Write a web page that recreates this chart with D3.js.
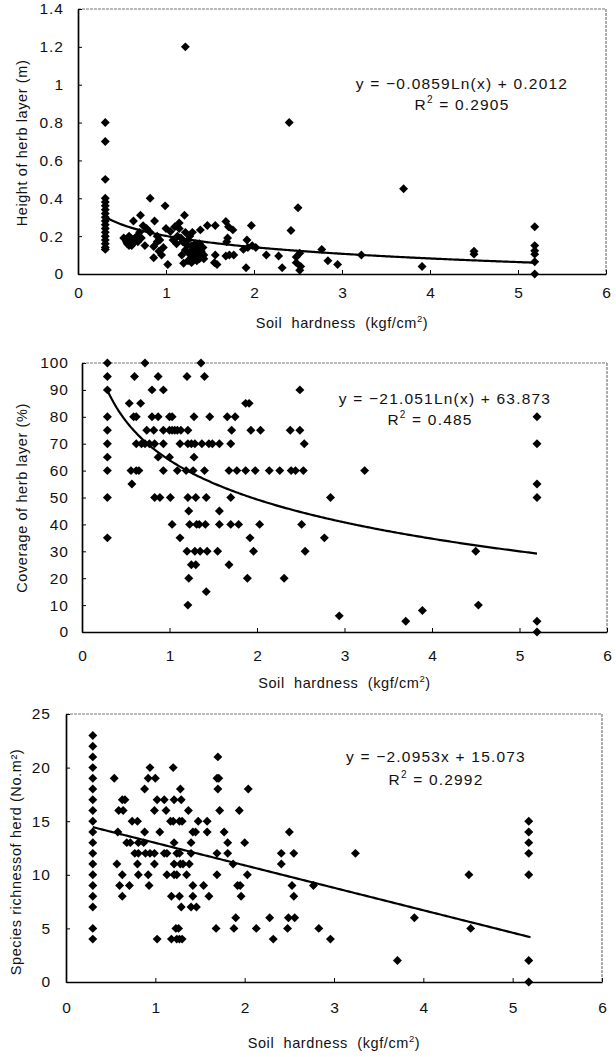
<!DOCTYPE html>
<html lang="en">
<head>
<meta charset="UTF-8">
<title>Soil hardness and herb layer</title>
<script src="https://d3js.org/d3.v7.min.js"></script>
<style>
  body { margin: 0; background: #fff; }
  svg { display: block; }
  text { font-family: "Liberation Sans", Arial, Helvetica, sans-serif; fill: #111; }
</style>
</head>
<body>
<div id="chart"></div>
<script>
// x ticks shared by all three panels
const xTicks = [0, 1, 2, 3, 4, 5, 6];

// panel 1: height of herb layer (m)
const heightTicks = [0, 0.2, 0.4, 0.6, 0.8, 1, 1.2, 1.4];
const heightPts = [
  [0.31,0.8],[0.31,0.7],[0.31,0.5],[0.31,0.4],[0.31,0.38],[0.31,0.36],[0.31,0.34],[0.31,0.32],
  [0.31,0.3],[0.31,0.28],[0.31,0.26],[0.31,0.24],[0.31,0.22],[0.31,0.2],[0.31,0.18],[0.31,0.16],
  [0.31,0.14],[0.31,0.13],
  [1.22,1.2],[2.40,0.8],[3.70,0.45],[2.50,0.35],[2.42,0.23],[0.82,0.40],[0.99,0.36],[1.21,0.31],
  [0.71,0.31],[0.63,0.28],[0.87,0.28],[0.74,0.255],[0.52,0.19],[0.55,0.17],[0.58,0.15],[0.60,0.19],
  [0.62,0.16],[0.65,0.19],[0.67,0.2],[0.70,0.22],[0.76,0.15],[0.78,0.24],[0.82,0.22],[0.86,0.145],
  [0.90,0.17],[0.86,0.086],[1.02,0.05],[1.00,0.24],[1.05,0.225],[1.10,0.25],[1.15,0.24],[1.13,0.2],
  [1.22,0.22],[0.97,0.14],[1.22,0.127],[1.29,0.15],[1.28,0.1],[1.31,0.08],[1.33,0.12],[1.35,0.07],
  [1.37,0.13],[1.39,0.11],[1.41,0.09],[1.20,0.057],[1.39,0.233],[1.47,0.256],[1.56,0.256],[1.68,0.277],
  [1.71,0.25],[1.76,0.233],[1.70,0.19],[1.69,0.17],[1.97,0.256],[1.92,0.18],[1.88,0.13],[1.93,0.14],
  [1.98,0.15],[2.02,0.14],[1.43,0.1],[1.43,0.08],[1.56,0.1],[1.55,0.06],[1.58,0.05],[1.68,0.095],
  [1.72,0.1],[1.77,0.1],[1.91,0.033],[2.14,0.1],[2.28,0.095],[2.32,0.033],[2.48,0.09],[2.52,0.11],
  [2.48,0.06],[2.53,0.04],[2.52,0.02],[2.77,0.13],[2.84,0.07],[2.95,0.05],[3.22,0.1],[3.91,0.04],
  [4.50,0.12],[4.50,0.105],[5.19,0.25],[5.19,0.15],[5.19,0.123],[5.19,0.105],[5.19,0.065],[5.19,0],
  [0.57,0.18],[0.60,0.17],[0.64,0.18],[0.58,0.2],[1.08,0.18],[1.12,0.16],[1.17,0.19],[1.19,0.17],
  [1.25,0.18],[1.27,0.2],[1.30,0.22],[1.18,0.1],[1.25,0.07],[1.30,0.13],[1.35,0.14],[1.38,0.16],
  [0.92,0.12],[0.95,0.1],[0.90,0.2],[0.93,0.18],[1.15,0.27],
  [0.56,0.16],[0.61,0.15],[0.63,0.17],[0.68,0.17],[0.72,0.19],[1.26,0.11],[1.29,0.06],[1.32,0.1],
  [1.34,0.09],[1.36,0.11],[1.38,0.08],[1.40,0.12],[1.42,0.14],[1.33,0.16],[1.24,0.15]
];

// panel 2: coverage of herb layer (%)
const coverTicks = [0, 10, 20, 30, 40, 50, 60, 70, 80, 90, 100];
const coverPts = [
  [0.29,100],[0.72,100],[1.36,100],
  [0.29,95],[0.60,95],[0.87,95],[1.20,95],[1.40,95],
  [0.29,90],[0.80,90],[0.93,90],[2.49,90],
  [0.54,85],[0.67,85],[1.87,85],[1.91,85],
  [0.29,80],[0.59,80],[0.62,80],[0.80,80],[0.87,80],[1.00,80],[1.03,80],[1.28,80],[1.46,80],[1.66,80],[1.75,80],
  [0.29,75],[0.74,75],[0.82,75],[0.93,75],[1.00,75],[1.03,75],[1.06,75],[1.09,75],[1.13,75],[1.21,75],
  [1.71,75],[1.93,75],[2.04,75],[2.38,75],[2.49,75],
  [0.29,70],[0.62,70],[0.68,70],[0.72,70],[0.77,70],[0.83,70],[0.93,70],[1.12,70],[1.21,70],[1.25,70],
  [1.29,70],[1.37,70],[1.45,70],[1.49,70],[1.57,70],[1.70,70],[2.54,70],
  [0.29,65],[0.87,65],[1.00,65],[1.28,65],
  [0.29,60],[0.56,60],[0.62,60],[0.65,60],[0.93,60],[1.09,60],[1.19,60],[1.27,60],[1.40,60],[1.68,60],
  [1.77,60],[1.87,60],[1.98,60],[2.14,60],[2.26,60],[2.39,60],[2.44,60],[2.53,60],[3.23,60],
  [0.57,55],
  [0.29,50],[0.83,50],[0.89,50],[1.01,50],[1.21,50],[1.30,50],[1.42,50],[1.70,50],[2.84,50],
  [1.22,45],[1.57,45],
  [1.03,40],[1.23,40],[1.31,40],[1.34,40],[1.41,40],[1.57,40],[1.70,40],[1.79,40],[2.03,40],[2.51,40],
  [0.29,35],[1.12,35],[1.92,35],[2.77,35],
  [1.20,30],[1.29,30],[1.35,30],[1.43,30],[1.55,30],[1.96,30],[2.55,30],[4.50,30],
  [1.25,25],[1.30,25],[1.68,25],
  [1.22,20],[1.89,20],[2.31,20],
  [1.42,15],[1.21,10],[4.53,10],[3.89,8],[2.94,6],[3.70,4],
  [5.20,80],[5.20,70],[5.20,55],[5.20,50],[5.20,4],[5.20,0]
];

// panel 3: species richness
const richTicks = [0, 5, 10, 15, 20, 25];
const richPts = [
  [0.30,23],[0.30,22],[0.30,21],[0.30,20],[0.30,19],[0.30,18],[0.30,17],[0.30,16],[0.30,15],[0.30,14],
  [0.30,13],[0.30,12],[0.30,11],[0.30,10],[0.30,9],[0.30,8],[0.30,7],[0.30,5],[0.30,4],
  [0.94,20],[1.20,20],[1.70,21],
  [0.54,19],[0.92,19],[1.00,19],[1.69,19],[1.71,19],
  [0.88,18],[1.28,18],[1.70,18],[2.04,18],
  [0.63,17],[0.66,17],[1.02,17],[1.10,17],[1.21,17],[1.29,17],
  [0.59,16],[0.64,16],[0.99,16],[1.12,16],[1.37,16],[1.72,16],[1.94,16],
  [0.74,15],[0.80,15],[1.17,15],[1.20,15],[1.27,15],[1.30,15],[1.48,15],[1.58,15],
  [0.58,14],[0.88,14],[1.05,14],[1.42,14],[1.45,14],[1.58,14],[1.77,14],[2.50,14],
  [0.68,13],[0.72,13],[0.81,13],[0.87,13],[1.21,13],[1.40,13],[1.81,13],[2.00,13],
  [0.77,12],[0.81,12],[0.89,12],[0.94,12],[0.99,12],[1.10,12],[1.13,12],[1.24,12],[1.27,12],[1.40,12],
  [1.69,12],[1.81,12],[2.41,12],[2.55,12],[3.24,12],
  [0.57,11],[0.80,11],[0.99,11],[1.21,11],[1.28,11],[1.31,11],[1.38,11],[1.87,11],[2.41,11],
  [0.63,10],[0.81,10],[0.92,10],[1.13,10],[1.21,10],[1.24,10],[1.35,10],[1.69,10],[2.03,10],[4.51,10],
  [0.60,9],[0.71,9],[0.93,9],[1.42,9],[1.54,9],[1.92,9],[1.95,9],[2.53,9],[2.77,9],
  [0.63,8],[1.18,8],[1.27,8],[1.42,8],[1.60,8],[1.96,8],[2.55,8],
  [1.29,7],[1.40,7],[1.46,7],
  [1.90,6],[2.28,6],[2.49,6],[2.56,6],[3.90,6],
  [1.68,5],[1.88,5],[2.13,5],[2.48,5],[2.83,5],[1.23,5],[1.26,5],[4.53,5],
  [1.02,4],[1.18,4],[1.24,4],[1.27,4],[1.30,4],[2.32,4],[2.96,4],
  [3.71,2],
  [5.18,15],[5.18,14],[5.18,13],[5.18,12],[5.18,10],[5.18,2],[5.18,0]
];

// fitted trend lines as printed on the chart
const heightFit = x => -0.0859 * Math.log(x) + 0.2012;
const coverFit = x => -21.051 * Math.log(x) + 63.873;
const richFit = x => -2.0953 * x + 15.073;

const W = 616, H = 1057;
const svg = d3.select("#chart").append("svg")
  .attr("width", W).attr("height", H);

const panels = [
  { left: 78, right: 606, top: 9, bottom: 274, yMax: 1.4, yTicks: heightTicks, pts: heightPts, fit: heightFit,
    yTitle: "Height of herb layer (m)", yTitleX: 27, yTitleY: 143, labelGap: 14,
    eq: "y = \u22120.0859Ln(x) + 0.2012", eqX: 462, eqY: 89, r2: "0.2905", r2X: 462, r2Y: 110,
    xLabY: 298, xTitleY: 328 },
  { left: 82, right: 607, top: 363, bottom: 632, yMax: 100, yTicks: coverTicks, pts: coverPts, fit: coverFit,
    yTitle: "Coverage of herb layer (%)", yTitleX: 27, yTitleY: 498, labelGap: 13,
    eq: "y = \u221221.051Ln(x) + 63.873", eqX: 445, eqY: 404, r2: "0.485", r2X: 430, r2Y: 425,
    xLabY: 661, xTitleY: 688 },
  { left: 66, right: 602, top: 714, bottom: 982, yMax: 25, yTicks: richTicks, pts: richPts, fit: richFit,
    yTitle: "Species richnessof herd (No.m\u00B2)", yTitleX: 21, yTitleY: 862, labelGap: 15,
    eq: "y = \u22122.0953x + 15.073", eqX: 436, eqY: 762, r2: "0.2992", r2X: 436, r2Y: 785,
    xLabY: 1013, xTitleY: 1048 }
];

panels.forEach(p => {
  const x = d3.scaleLinear().domain([0, 6]).range([p.left, p.right]);
  const y = d3.scaleLinear().domain([0, p.yMax]).range([p.bottom, p.top]);
  const g = svg.append("g");

  // frame: top/right faint, left/bottom solid
  g.append("line").attr("x1", p.left).attr("x2", p.right).attr("y1", p.top).attr("y2", p.top)
    .attr("stroke", "#777").attr("stroke-width", 1.2).attr("stroke-dasharray", "3,1");
  g.append("line").attr("x1", p.right).attr("x2", p.right).attr("y1", p.top).attr("y2", p.bottom)
    .attr("stroke", "#777").attr("stroke-width", 1.2).attr("stroke-dasharray", "3,1");

  const xAxis = g.append("g").attr("transform", `translate(0,${p.bottom})`)
    .call(d3.axisBottom(x).tickValues(xTicks).tickSizeInner(-4).tickSizeOuter(0)
      .tickFormat(d3.format("d")));
  xAxis.select(".domain").attr("stroke", "#000").attr("stroke-width", 1.7);
  xAxis.selectAll(".tick line").attr("stroke", "#000");
  xAxis.selectAll(".tick text").attr("font-size", 15.5).attr("y", p.xLabY - p.bottom).attr("dy", null)
    .attr("fill", "#111");

  const yAxis = g.append("g").attr("transform", `translate(${p.left},0)`)
    .call(d3.axisLeft(y).tickValues(p.yTicks).tickSizeInner(-4).tickSizeOuter(0).tickPadding(p.labelGap)
      .tickFormat(d => String(+d.toFixed(1))));
  yAxis.select(".domain").attr("stroke", "#000").attr("stroke-width", 1.7);
  yAxis.selectAll(".tick line").attr("stroke", "#000");
  yAxis.selectAll(".tick text").attr("font-size", 15.5).attr("letter-spacing", 1).attr("fill", "#111");

  // points
  g.selectAll("path.pt").data(p.pts).join("path")
    .attr("class", "pt")
    .attr("d", d3.symbol(d3.symbolSquare, 40))
    .attr("transform", d => `translate(${x(d[0])},${y(d[1])}) rotate(45)`)
    .attr("fill", "#000");

  // trend line
  const fx = d3.range(0.3, 5.2001, 0.02);
  g.append("path").datum(fx)
    .attr("fill", "none").attr("stroke", "#000").attr("stroke-width", 2.2)
    .attr("d", d3.line().x(d => x(d)).y(d => y(p.fit(d))));

  // equation
  g.append("text").attr("x", p.eqX).attr("y", p.eqY).attr("text-anchor", "middle")
    .attr("font-size", 15.5).attr("letter-spacing", 1.2).text(p.eq);
  const r = g.append("text").attr("x", p.r2X).attr("y", p.r2Y).attr("text-anchor", "middle")
    .attr("font-size", 15.5).attr("letter-spacing", 1.2);
  r.append("tspan").text("R");
  r.append("tspan").attr("dy", -7).attr("font-size", 10).text("2");
  r.append("tspan").attr("dy", 7).text(" = " + p.r2);

  // x title
  const t = g.append("text").attr("x", (p.left + p.right) / 2).attr("y", p.xTitleY)
    .attr("text-anchor", "middle").attr("font-size", 14.5).attr("letter-spacing", 0.6)
    .attr("xml:space", "preserve");
  t.append("tspan").text("Soil  hardness  (kgf/cm");
  t.append("tspan").attr("dy", -6).attr("font-size", 9.5).text("2");
  t.append("tspan").attr("dy", 6).text(")");

  // y title
  g.append("text")
    .attr("transform", `translate(${p.yTitleX},${p.yTitleY}) rotate(-90)`)
    .attr("text-anchor", "middle").attr("font-size", 14.5).attr("letter-spacing", 0.6)
    .text(p.yTitle);
});
</script>
</body>
</html>
